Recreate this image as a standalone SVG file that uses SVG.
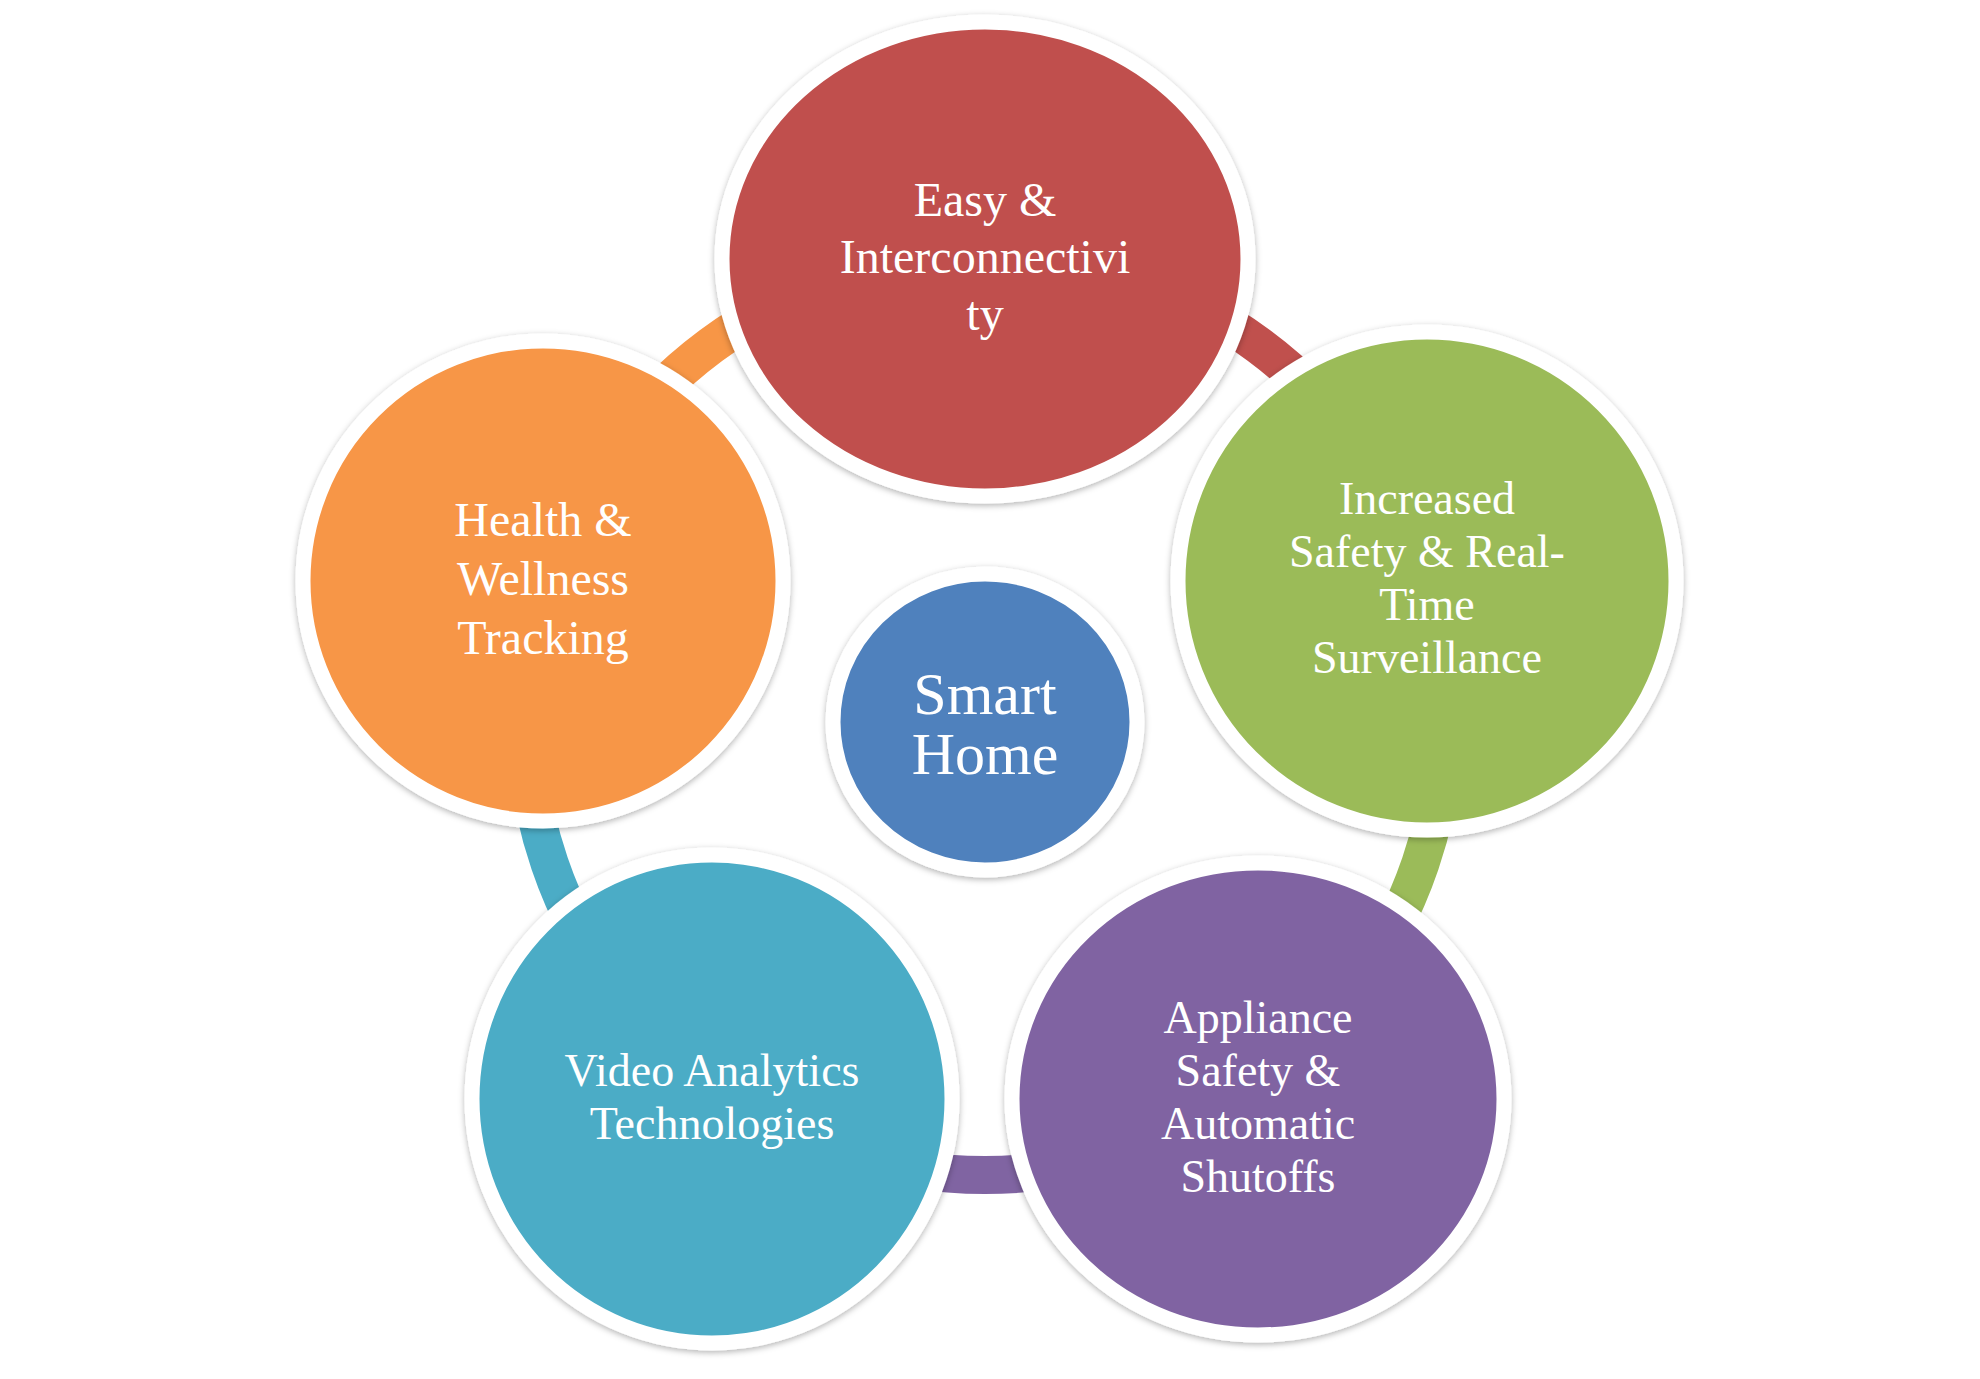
<svg xmlns="http://www.w3.org/2000/svg" width="1980" height="1379" viewBox="0 0 1980 1379">
<defs>
<filter id="sh" x="-10%" y="-10%" width="120%" height="120%"><feDropShadow dx="0" dy="2" stdDeviation="3" flood-color="#000" flood-opacity="0.3"/></filter>
</defs>
<style>
.n{stroke:#fff;stroke-width:15;filter:url(#sh)}
.t{font-family:"Liberation Serif","DejaVu Serif",serif;fill:#fff;text-anchor:middle;font-size:46px}
.a{fill:none;stroke-width:38}
</style>
<rect width="1980" height="1379" fill="#fff"/>
<g id="connectors">
<path class="a" stroke="#F79646" d="M544.9,581.3 A460,460 0 0 1 985,255"/>
<path class="a" stroke="#C0504D" d="M985,255 A460,460 0 0 1 1425.1,581.3"/>
<path class="a" stroke="#9BBB59" d="M1425.1,581.3 A460,460 0 0 1 1251.5,1090"/>
<path class="a" stroke="#8064A2" d="M1251.5,1090 A460,460 0 0 1 718.5,1090"/>
<path class="a" stroke="#4BACC6" d="M718.5,1090 A460,460 0 0 1 544.9,581.3"/>
</g>
<g id="center"><ellipse class="n" cx="985" cy="722" rx="152" ry="148" fill="#4F81BD"/>
<text class="t" style="font-size:60px"><tspan x="985" y="714">Smart</tspan><tspan x="985" y="774">Home</tspan></text></g>
<g id="easy"><ellipse class="n" cx="985" cy="259" rx="263" ry="237" fill="#C0504D"/>
<text class="t" style="font-size:48px"><tspan x="985" y="216">Easy &amp;</tspan><tspan x="985" y="273">Interconnectivi</tspan><tspan x="985" y="330">ty</tspan></text></g>
<g id="safety"><ellipse class="n" cx="1427" cy="581" rx="249" ry="249" fill="#9BBB59"/>
<text class="t"><tspan x="1427" y="514">Increased</tspan><tspan x="1427" y="567">Safety &amp; Real-</tspan><tspan x="1427" y="620">Time</tspan><tspan x="1427" y="673">Surveillance</tspan></text></g>
<g id="appliance"><ellipse class="n" cx="1258" cy="1099" rx="246" ry="236" fill="#8064A2"/>
<text class="t"><tspan x="1258" y="1033">Appliance</tspan><tspan x="1258" y="1086">Safety &amp;</tspan><tspan x="1258" y="1139">Automatic</tspan><tspan x="1258" y="1192">Shutoffs</tspan></text></g>
<g id="video"><ellipse class="n" cx="712" cy="1099" rx="240" ry="244" fill="#4BACC6"/>
<text class="t"><tspan x="712" y="1086">Video Analytics</tspan><tspan x="712" y="1139">Technologies</tspan></text></g>
<g id="health"><ellipse class="n" cx="543" cy="581" rx="240" ry="240" fill="#F79646"/>
<text class="t" style="font-size:48px"><tspan x="543" y="536">Health &amp;</tspan><tspan x="543" y="595">Wellness</tspan><tspan x="543" y="654">Tracking</tspan></text></g>
</svg>
